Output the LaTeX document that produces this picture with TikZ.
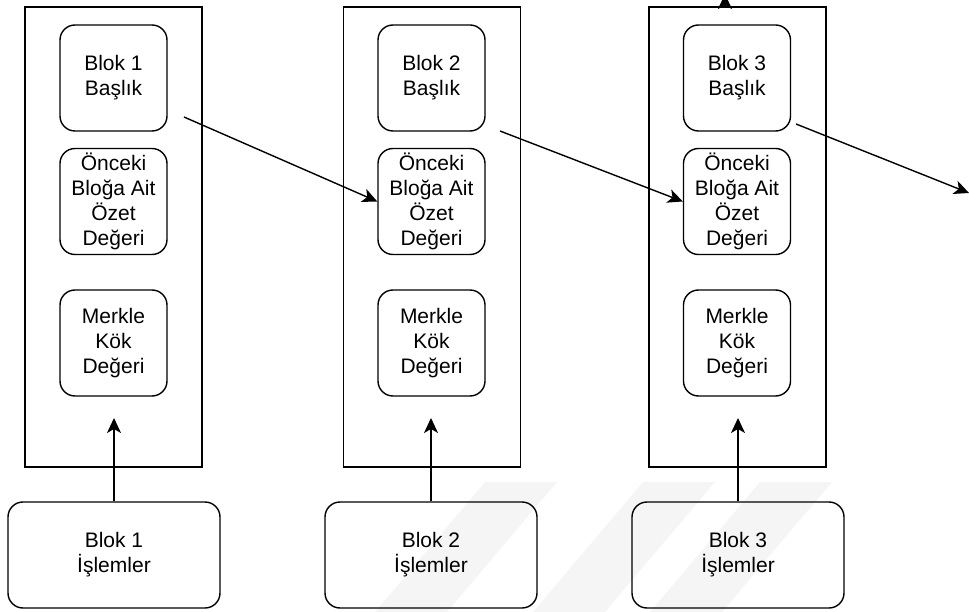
\documentclass[tikz,border=0pt]{standalone}
\usepackage{fontspec}
\setmainfont{Liberation Sans}
\usetikzlibrary{arrows.meta}
\begin{document}
\begin{tikzpicture}[x=1pt,y=-1pt,
  outerbox/.style={draw, line width=1.5pt, minimum width=177pt, minimum height=460pt, inner sep=0pt},
  field/.style={draw, line width=1.4pt, rounded corners=15pt, minimum width=107pt,
    minimum height=106pt, align=center, inner sep=0pt, font=\fontsize{21}{25}\selectfont},
  txbox/.style={field, minimum width=212pt},
  link/.style={line width=1.4pt, -{Stealth[length=15pt,width=14pt,inset=4pt]}},
  wm/.style={fill=black!4, draw=none}]
\useasboundingbox (0,0) rectangle (969,612);

% faint background bands
\foreach \a in {485,643,760}
  \fill[wm] (\a,482) -- (\a+72,482) -- (\a-38,612) -- (\a-110,612) -- cycle;

% block columns
\node[outerbox] (c1) at (113.5,237) {};
\node[outerbox] (c2) at (432,237) {};
\node[outerbox] (c3) at (737.5,237) {};

\node[field] (h1) at (113.5,78) {Blok 1\\Başlık};
\node[field] (p1) at (113.5,201.5) {Önceki\\Bloğa Ait\\Özet\\Değeri};
\node[field] (m1) at (113.5,343) {Merkle\\Kök\\Değeri};

\node[field] (h2) at (431.5,78) {Blok 2\\Başlık};
\node[field] (p2) at (431.5,201.5) {Önceki\\Bloğa Ait\\Özet\\Değeri};
\node[field] (m2) at (431.5,343) {Merkle\\Kök\\Değeri};

\node[field] (h3) at (737,78) {Blok 3\\Başlık};
\node[field] (p3) at (737,201.5) {Önceki\\Bloğa Ait\\Özet\\Değeri};
\node[field] (m3) at (737,343) {Merkle\\Kök\\Değeri};

% transactions
\node[txbox] (t1) at (114,555) {Blok 1\\İşlemler};
\node[txbox] (t2) at (431,555) {Blok 2\\İşlemler};
\node[txbox] (t3) at (738,555) {Blok 3\\İşlemler};

\coordinate (in1) at (114,418);
\coordinate (in2) at (431,418);
\coordinate (in3) at (738,418);
\draw[link] (t1.north) -- (in1);
\draw[link] (t2.north) -- (in2);
\draw[link] (t3.north) -- (in3);

% header-to-previous-hash links
\coordinate (o1) at (184,117);
\coordinate (o2) at (500,131);
\coordinate (o3) at (796,124);
\coordinate (x3) at (969,193);
\draw[link] (o1) -- (p2.west);
\draw[link] (o2) -- (p3.west);
\draw[link] (o3) -- (x3);

% upward link leaving block 3
\coordinate (upbase) at (725,7);
\coordinate (up) at (725,-6);
\draw[link] (upbase) -- (up);
\end{tikzpicture}
\end{document}
